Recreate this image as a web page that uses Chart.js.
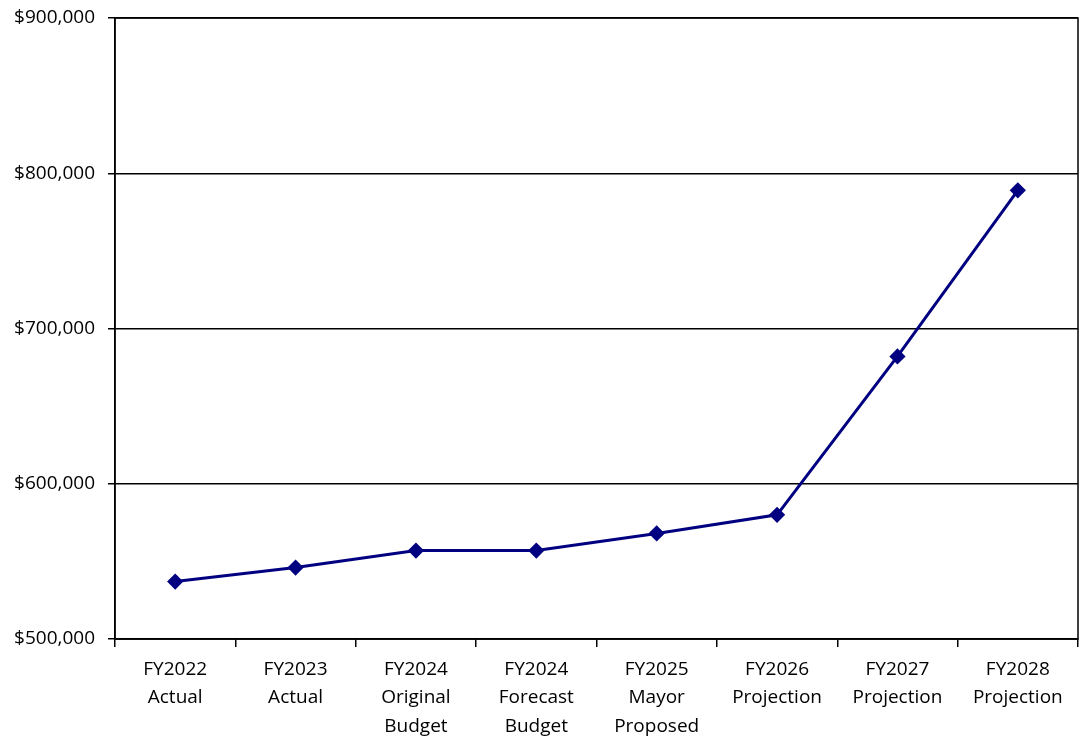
<!DOCTYPE html>
<html lang="en">
<head>
  <meta charset="UTF-8">
  <title>FY Projection</title>
  <script src="https://cdn.jsdelivr.net/npm/chart.js"></script>
  <style>
    html, body { margin: 0; padding: 0; background: #fff; }
    .chart-container { width: 1080px; height: 740px; }
  </style>
</head>
<body>
  <div class="chart-container">
    <canvas id="lineChart"></canvas>
  </div>
  <script>
    // categories (multi-line labels)
    const categories = [
      ['FY2022', 'Actual'],
      ['FY2023', 'Actual'],
      ['FY2024', 'Original', 'Budget'],
      ['FY2024', 'Forecast', 'Budget'],
      ['FY2025', 'Mayor', 'Proposed'],
      ['FY2026', 'Projection'],
      ['FY2027', 'Projection'],
      ['FY2028', 'Projection']
    ];
    // values
    const values = [537000, 546000, 557000, 557000, 568000, 580000, 682000, 789000];
    const yMin = 500000;
    const yMax = 900000;
    const yStep = 100000;

    // frame around the plot area
    const frame = {
      id: 'frame',
      afterDraw(chart) {
        const a = chart.chartArea;
        const ctx = chart.ctx;
        ctx.save();
        ctx.strokeStyle = '#000';
        ctx.lineWidth = 1.5;
        ctx.strokeRect(a.left, a.top, a.right - a.left, a.bottom - a.top);
        ctx.restore();
      }
    };

    const family = '"Open Sans", "Noto Sans", sans-serif';

    new Chart(document.getElementById('lineChart'), {
      type: 'line',
      data: {
        labels: categories,
        datasets: [{
          data: values,
          borderColor: '#000080',
          backgroundColor: '#000080',
          borderWidth: 3,
          pointStyle: 'rectRot',
          pointRadius: 6,
          pointHoverRadius: 6,
          tension: 0
        }]
      },
      options: {
        responsive: true,
        maintainAspectRatio: false,
        animation: false,
        layout: { autoPadding: false, padding: { top: 18, right: 2, left: 0, bottom: 0 } },
        plugins: {
          legend: { display: false },
          tooltip: { enabled: false }
        },
        scales: {
          x: {
            offset: true,
            afterFit(scale) { scale.height = 101; scale.paddingRight = 0; scale.paddingLeft = 0; },
            grid: {
              offset: true,
              drawOnChartArea: false,
              drawTicks: true,
              tickLength: 8,
              color: '#000',
              lineWidth: 1.5
            },
            border: { color: '#000', width: 1.5 },
            ticks: { color: '#000', font: { family: family, size: 19, lineHeight: 1.5 }, maxRotation: 0, autoSkip: false, padding: 8 }
          },
          y: {
            min: yMin,
            max: yMax,
            afterFit(scale) { scale.width = 115; scale.paddingTop = 0; scale.paddingBottom = 0; },
            grid: {
              color: '#000',
              lineWidth: 1.5,
              tickLength: 7
            },
            border: { color: '#000', width: 1.5 },
            ticks: {
              stepSize: yStep,
              color: '#000',
              font: { family: family, size: 19 },
              padding: 13,
              callback: v => '$' + v.toLocaleString('en-US')
            }
          }
        }
      },
      plugins: [frame]
    });
  </script>
</body>
</html>
